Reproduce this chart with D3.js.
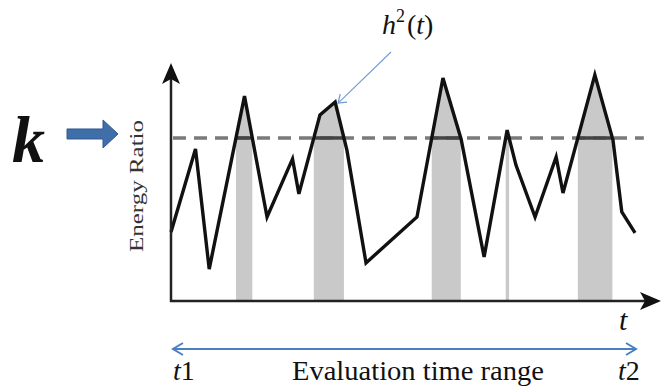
<!DOCTYPE html>
<html>
<head>
<meta charset="utf-8">
<script src="https://cdn.jsdelivr.net/npm/d3@7"></script>
<style>
  body { margin: 0; background: #fff; }
  svg { display: block; }
</style>
</head>
<body>
<div id="chart"></div>
<script>
// energy ratio curve

var width = 662,
  height = 389;

var times = [0, 5.0, 7.8, 15.0, 19.6, 24.8, 26.1, 30.4, 33.5, 35.9, 39.8, 50.2,
  55.5, 59.2, 63.9, 68.6, 70.4, 74.3, 78.6, 80.0, 86.5, 90.2, 92.0, 94.7];
var ratios = [29.0, 63.9, 13.4, 86.1, 35.3, 59.7, 45.0, 78.2, 83.6, 63.4, 16.0, 35.3,
  93.7, 68.1, 18.5, 71.8, 57.1, 35.3, 60.5, 45.4, 95.0, 67.6, 37.4, 28.6];
var threshold = 68.5;      // k
var thresholdEnd = 96.5;   // where the dashed line stops
var tStart = 0.4, tEnd = 94.9;  // t1 .. t2

var serif = "'Liberation Serif', 'Times New Roman', Times, 'DejaVu Serif', serif";

var data = times.map(function(t, i) { return {t: t, v: ratios[i]}; });

var x = d3.scaleLinear().domain([0, 100]).range([171, 661]);
var y = d3.scaleLinear().domain([0, 100]).range([301, 63]);

var svg = d3.select("#chart").append("svg")
  .attr("width", width)
  .attr("height", height);

// find the stretches where the curve is above k

var excursions = [];
var cur = null;
for (var i = 0; i < data.length - 1; i++) {
  var a = data[i], b = data[i + 1];
  var aUp = a.v > threshold, bUp = b.v > threshold;
  if (!aUp && bUp) {
    var tc = a.t + (threshold - a.v) / (b.v - a.v) * (b.t - a.t);
    cur = [{t: tc, v: threshold}];
  }
  if (bUp && cur) cur.push(b);
  if (aUp && !bUp && cur) {
    var tc2 = a.t + (threshold - a.v) / (b.v - a.v) * (b.t - a.t);
    cur.push({t: tc2, v: threshold});
    excursions.push(cur);
    cur = null;
  }
}

// shaded regions

var area = d3.area()
  .x(function(d) { return x(d.t); })
  .y0(y(0))
  .y1(function(d) { return y(d.v); });

svg.append("g")
  .selectAll("path")
  .data(excursions)
  .enter().append("path")
  .attr("d", area)
  .style("fill", "#c9c9c9");

// threshold line

svg.append("line")
  .attr("x1", x(0) + 2)
  .attr("x2", x(thresholdEnd))
  .attr("y1", y(threshold))
  .attr("y2", y(threshold))
  .style("stroke", "#7a7a7a")
  .style("stroke-width", 3.5)
  .style("stroke-dasharray", "13,8");

svg.append("g")
  .selectAll("line")
  .data(excursions)
  .enter().append("line")
  .attr("x1", function(d) { return x(d[0].t); })
  .attr("x2", function(d) { return x(d[d.length - 1].t); })
  .attr("y1", y(threshold))
  .attr("y2", y(threshold))
  .style("stroke", "#444")
  .style("stroke-width", 3.5);

// the curve

var line = d3.line()
  .x(function(d) { return x(d.t); })
  .y(function(d) { return y(d.v); });

svg.append("path")
  .datum(data)
  .attr("d", line)
  .style("fill", "none")
  .style("stroke", "#111")
  .style("stroke-width", 3.4)
  .style("stroke-linejoin", "miter");

// axes with arrow heads

svg.append("line")
  .attr("x1", x(0)).attr("x2", x(0))
  .attr("y1", y(0) + 1).attr("y2", y(100) + 12)
  .style("stroke", "#222").style("stroke-width", 2.5);

svg.append("line")
  .attr("x1", x(0) - 1).attr("x2", x(100) - 12)
  .attr("y1", y(0)).attr("y2", y(0))
  .style("stroke", "#222").style("stroke-width", 2.5);

var x0 = x(0), yTop = y(100), xEnd = x(100), y0 = y(0);
svg.append("path")
  .attr("d", "M" + x0 + "," + yTop + "L" + (x0 + 9) + "," + (yTop + 21) +
    "L" + x0 + "," + (yTop + 16) + "L" + (x0 - 9) + "," + (yTop + 21) + "Z")
  .style("fill", "#111");
svg.append("path")
  .attr("d", "M" + xEnd + "," + y0 + "L" + (xEnd - 21) + "," + (y0 - 9) +
    "L" + (xEnd - 16) + "," + y0 + "L" + (xEnd - 21) + "," + (y0 + 9) + "Z")
  .style("fill", "#111");

// y label

svg.append("text")
  .attr("transform", "translate(143," + 186 + ") rotate(-90)")
  .attr("text-anchor", "middle")
  .attr("textLength", 132)
  .attr("lengthAdjust", "spacingAndGlyphs")
  .style("font-family", serif)
  .style("font-size", "19px")
  .style("fill", "#333")
  .text("Energy Ratio");

// k with block arrow

svg.append("text")
  .attr("x", 12)
  .attr("y", 162)
  .style("font-family", serif)
  .style("font-size", "66px")
  .style("font-weight", "bold")
  .style("font-style", "italic")
  .style("fill", "#111")
  .text("k");

var ky = y(threshold) - 4;
svg.append("path")
  .attr("d", "M67," + (ky - 5) + "L103," + (ky - 5) + "L103," + (ky - 14) +
    "L118," + ky + "L103," + (ky + 14) + "L103," + (ky + 5) + "L67," + (ky + 5) + "Z")
  .style("fill", "#3f6ea8")
  .style("stroke", "#2e5a91")
  .style("stroke-width", 1);

// h^2(t) annotation

var peak = data[8];
var px = x(peak.t) + 3, py = y(peak.v) + 1;
svg.append("line")
  .attr("x1", 391).attr("y1", 52)
  .attr("x2", px).attr("y2", py)
  .style("stroke", "#6f9bd6").style("stroke-width", 1.1);
svg.append("path")
  .attr("d", "M" + (px + 9) + "," + (py - 1) + "L" + px + "," + py + "L" + (px + 2) + "," + (py - 9))
  .style("fill", "none").style("stroke", "#6f9bd6").style("stroke-width", 1.3);

var h2 = svg.append("text")
  .attr("x", 382)
  .attr("y", 34)
  .style("font-family", serif)
  .style("font-size", "28px")
  .style("fill", "#111");
h2.append("tspan").style("font-style", "italic").text("h");
h2.append("tspan").attr("dy", -12).style("font-size", "18px").text("2");
h2.append("tspan").attr("dy", 12).attr("dx", 2).text("(");
h2.append("tspan").style("font-style", "italic").text("t");
h2.append("tspan").text(")");

// t label on x axis

svg.append("text")
  .attr("x", 619)
  .attr("y", 330)
  .style("font-family", serif)
  .style("font-size", "30px")
  .style("font-style", "italic")
  .style("fill", "#111")
  .text("t");

// evaluation range

var ry = 349;
var r1 = x(tStart), r2 = x(tEnd);
svg.append("line")
  .attr("x1", r1).attr("x2", r2)
  .attr("y1", ry).attr("y2", ry)
  .style("stroke", "#4a7fc1").style("stroke-width", 2);
svg.append("path")
  .attr("d", "M" + (r1 + 10) + "," + (ry - 6) + "L" + r1 + "," + ry + "L" + (r1 + 10) + "," + (ry + 6) +
    "M" + (r2 - 10) + "," + (ry - 6) + "L" + r2 + "," + ry + "L" + (r2 - 10) + "," + (ry + 6))
  .style("fill", "none").style("stroke", "#4a7fc1").style("stroke-width", 2);

var t1 = svg.append("text")
  .attr("x", r1)
  .attr("y", 380)
  .style("font-family", serif)
  .style("font-size", "28px")
  .style("fill", "#111");
t1.append("tspan").style("font-style", "italic").text("t");
t1.append("tspan").text("1");

var t2 = svg.append("text")
  .attr("x", 618)
  .attr("y", 380)
  .style("font-family", serif)
  .style("font-size", "28px")
  .style("fill", "#111");
t2.append("tspan").style("font-style", "italic").text("t");
t2.append("tspan").text("2");

svg.append("text")
  .attr("x", 292)
  .attr("y", 380)
  .attr("textLength", 252)
  .attr("lengthAdjust", "spacingAndGlyphs")
  .style("font-family", serif)
  .style("font-size", "27px")
  .style("fill", "#111")
  .text("Evaluation time range");
</script>
</body>
</html>
